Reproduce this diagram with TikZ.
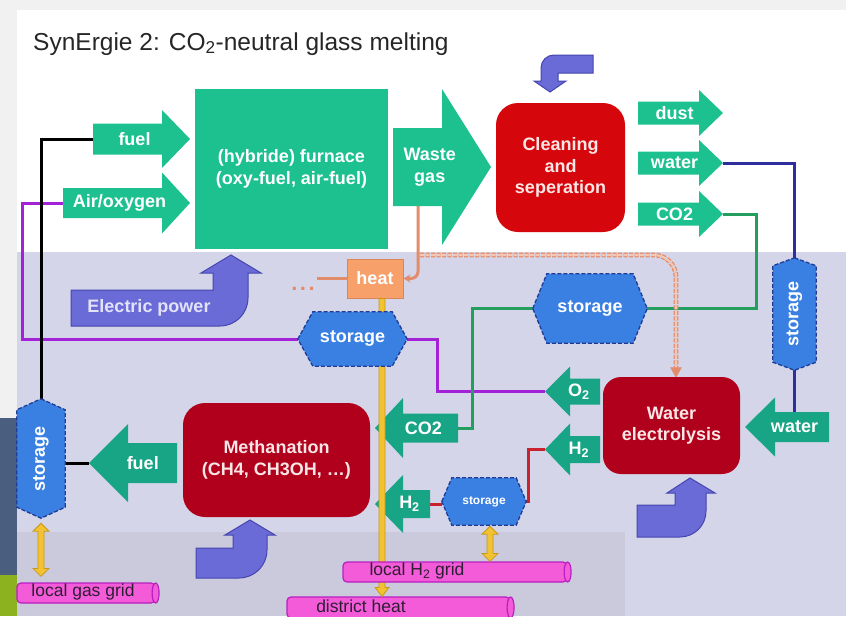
\documentclass[tikz,border=0pt]{standalone}
\usepackage{fontspec}
\setmainfont{Liberation Sans}
\usetikzlibrary{arrows.meta,calc}
\pgfdeclarelayer{bgl}
\pgfdeclarelayer{lnl}
\pgfsetlayers{bgl,lnl,main}
\definecolor{tealU}{HTML}{1DC190}
\definecolor{tealL}{HTML}{17A585}
\definecolor{redC}{HTML}{D6070C}
\definecolor{redD}{HTML}{B0001C}
\definecolor{storF}{HTML}{3A80E2}
\definecolor{storB}{HTML}{1E3C96}
\definecolor{epF}{HTML}{6B6BD8}
\definecolor{epB}{HTML}{4545B0}
\definecolor{heatF}{HTML}{F7A06A}
\definecolor{heatB}{HTML}{D9865A}
\definecolor{pipeF}{HTML}{F45BD8}
\definecolor{pipeB}{HTML}{B81FC0}
\definecolor{pipeT}{HTML}{2E1E34}
\definecolor{yelF}{HTML}{F2C232}
\definecolor{yelB}{HTML}{C8981A}
\definecolor{purL}{HTML}{A322D8}
\definecolor{bluL}{HTML}{2E2E9E}
\definecolor{grnL}{HTML}{239E5E}
\definecolor{redL}{HTML}{C8222E}
\definecolor{salL}{HTML}{E38C6C}
\definecolor{salM}{HTML}{F4C8B2}
\definecolor{lav}{HTML}{D5D5E9}
\definecolor{lavD}{HTML}{CACADC}
\definecolor{bgG}{HTML}{F1F1F1}
\definecolor{stripD}{HTML}{4A5F7F}
\definecolor{stripG}{HTML}{8CB31F}
\definecolor{titleT}{HTML}{262626}
\definecolor{pinkT}{HTML}{FBE6E6}
\definecolor{epT}{HTML}{E2E2F8}

\newcommand\lblfont{\bfseries\fontsize{18}{21.5}\selectfont}

% name, tail x, head-base x, tip x, centre y, shaft half, head half, style, text
\newcommand\blkarrow[9]{%
  \fill[#8] (#2,{#5-#6}) -- (#3,{#5-#6}) -- (#3,{#5-#7}) -- (#4,#5) -- (#3,{#5+#7}) -- (#3,{#5+#6}) -- (#2,{#5+#6}) -- cycle;
  \node[lbl] (#1) at ({(2*#2+#3+#4)/4},#5) {#9};
  \coordinate (#1 tail) at (#2,#5);
  \coordinate (#1 tip) at (#4,#5);}

% horizontal hexagon storage: name, x, y, w, h, slant
\newcommand\storH[6]{%
  \path node[minimum width=#4pt, minimum height=#5pt, inner sep=0pt] (#1) at (#2,#3) {};
  \draw[stor] (#1.west) -- ([xshift=#6pt]#1.north west) -- ([xshift=-#6pt]#1.north east) -- (#1.east) -- ([xshift=-#6pt]#1.south east) -- ([xshift=#6pt]#1.south west) -- cycle;}
% vertical hexagon storage
\newcommand\storV[6]{%
  \path node[minimum width=#4pt, minimum height=#5pt, inner sep=0pt] (#1) at (#2,#3) {};
  \draw[stor] (#1.north) -- ([yshift=-#6pt]#1.north east) -- ([yshift=#6pt]#1.south east) -- (#1.south) -- ([yshift=#6pt]#1.south west) -- ([yshift=-#6pt]#1.north west) -- cycle;}
% vertical double arrow between two coordinates (top, bottom)
\newcommand\ydouble[2]{%
  \filldraw[yarr] (#1) -- ([xshift=8pt,yshift=-8pt]#1) -- ([xshift=3pt,yshift=-8pt]#1) -- ([xshift=3pt,yshift=8pt]#2) -- ([xshift=8pt,yshift=8pt]#2) -- (#2) -- ([xshift=-8pt,yshift=8pt]#2) -- ([xshift=-3pt,yshift=8pt]#2) -- ([xshift=-3pt,yshift=-8pt]#1) -- ([xshift=-8pt,yshift=-8pt]#1) -- cycle;}

\begin{document}
\begin{tikzpicture}[x=1pt,y=-1pt,
  lbl/.style={font=\lblfont, text=white, inner sep=0pt, align=center},
  box/.style={font=\lblfont, inner sep=0pt, align=center},
  stor/.style={fill=storF, draw=storB, line width=1.3pt, dash pattern=on 4pt off 2pt},
  stxt/.style={font=\lblfont, text=white, inner sep=0pt},
  ep/.style={fill=epF, draw=epB, line width=1pt},
  pipe/.style={fill=pipeF, draw=pipeB, line width=1.2pt, rounded corners=4pt, inner sep=0pt},
  pipeE/.style={fill=pipeF, draw=pipeB, line width=1.2pt},
  ptxt/.style={font=\fontsize{17.5}{20}\selectfont, text=pipeT, inner sep=0pt},
  yarr/.style={fill=yelF, draw=yelB, line width=0.8pt},
  conn/.style={line width=3pt},
  salC/.style={draw=salL, line width=3pt},
  salDash/.style={draw=salL, line width=1.3pt, double=salM, double distance=2.2pt, dash pattern=on 4pt off 1.5pt}
]
\useasboundingbox (0,0) rectangle (846,616);

\begin{pgfonlayer}{bgl}
\fill[bgG] (0,0) rectangle (846,616);
\fill[white] (17,10) rectangle (846,252);
\fill[lav] (17,252) rectangle (846,616);
\fill[lavD] (17,532) rectangle (625,616);
\fill[stripD] (0,418) rectangle (17,575);
\fill[stripG] (0,575) rectangle (17,616);
\end{pgfonlayer}

\node[anchor=base west, font=\fontsize{24.5}{29}\selectfont, text=titleT, inner sep=0pt] (title) at (33,50) {SynErgie 2: CO\textsubscript{2}-neutral glass melting};

% main boxes
\node[box, fill=tealU, text=white, minimum width=193pt, minimum height=160pt] (furn) at (291.5,169) {(hybride) furnace\\(oxy-fuel, air-fuel)};
\node[box, fill=redC, text=pinkT, rounded corners=22pt, minimum width=129pt, minimum height=129pt] (clean) at (560.5,167.5) {Cleaning\\and\\seperation};
\node[box, fill=redD, text=pinkT, rounded corners=18pt, minimum width=137pt, minimum height=97pt] (elec) at (671.5,425.5) {Water\\electrolysis};
\node[box, fill=redD, text=pinkT, rounded corners=22pt, minimum width=187pt, minimum height=114pt] (meth) at (276.5,460) {Methanation\\(CH4, CH3OH, \ldots)};
\node[box, fill=heatF, draw=heatB, line width=1pt, text=white, minimum width=56pt, minimum height=39pt] (heat) at (375,278.5) {heat};

% block arrows
\blkarrow{fuelA}{93}{162}{190}{139}{15.5}{29}{tealU}{fuel}
\blkarrow{airA}{63}{162}{190}{203}{15}{30.5}{tealU}{Air/oxygen}
\blkarrow{wg}{393}{442}{491}{167}{39}{78}{tealU}{Waste\\gas}
\blkarrow{dust}{638}{699}{723}{113}{11.5}{23}{tealU}{dust}
\blkarrow{waterA}{638}{699}{723}{163}{11.5}{23}{tealU}{water}
\blkarrow{co2A}{638}{699}{723}{214}{11.5}{23}{tealU}{CO2}
\blkarrow{waterB}{829}{775}{745}{427}{15}{29.5}{tealL}{water}
\blkarrow{o2}{600}{570}{545}{391.5}{13}{25}{tealL}{O\textsubscript{2}}
\blkarrow{h2A}{600}{570}{545}{449.5}{13.5}{26}{tealL}{H\textsubscript{2}}
\blkarrow{co2B}{458}{403}{375}{428}{14.5}{30}{tealL}{CO2}
\blkarrow{h2B}{430}{403}{375}{504}{14}{29}{tealL}{H\textsubscript{2}}
\blkarrow{fuelB}{177}{128}{89}{463}{20}{39}{tealL}{fuel}
\coordinate (wgb) at (418,206);
\coordinate (hb) at (420,255);

% bent power arrows
\filldraw[ep] (71,290) -- (213,290) -- (213,273) -- (201,273) -- (231,255) -- (261,273) -- (248,273) -- (248,298) .. controls (248,313.5) and (235.5,326) .. (220,326) -- (71,326) -- cycle;
\node[lbl, text=epT] (eptext) at (149,308) {Electric power};
\filldraw[ep] (593,55) -- (593,73) -- (558,73) -- (558,81) -- (566,81) -- (550,92) -- (534,81) -- (541,81) -- (541,68) .. controls (541,60.8) and (546.8,55) .. (554,55) -- cycle;
\filldraw[ep] (196,548) -- (233,548) -- (233,535) -- (225,535) -- (250,520) -- (275,535) -- (267,535) -- (267,550) .. controls (267,565.5) and (254.5,578) .. (239,578) -- (196,578) -- cycle;
\filldraw[ep] (637,505) -- (675,505) -- (675,493) -- (667,493) -- (690,478) -- (715,493) -- (706,493) -- (706,511) .. controls (706,525.4) and (694.4,537) .. (680,537) -- (637,537) -- cycle;

% pipes (district heat first, the heat arrow runs behind the H2 grid)
\node[pipe, minimum width=138pt, minimum height=20pt] (gas) at (86,593) {};
\filldraw[pipeE] (gas.east) ellipse (3.5pt and 10pt);
\node[ptxt] (gastxt) at (83,592) {local gas grid};
\node[pipe, minimum width=223pt, minimum height=21pt] (dh) at (398.5,607.5) {};
\filldraw[pipeE] (dh.east) ellipse (3.5pt and 10.5pt);
\node[ptxt] (dhtxt) at (361,606) {district heat};

% heat to district heat (yellow)
\coordinate (hy1) at ([xshift=7pt]heat.south);
\coordinate (hy2) at (hy1 |- dh.north);
\filldraw[yarr] ([xshift=-3pt]hy1) -- ([xshift=3pt]hy1) -- ([xshift=3pt,yshift=9pt]hy2) -- ([xshift=7pt,yshift=9pt]hy2) -- (hy2) -- ([xshift=-7pt,yshift=9pt]hy2) -- ([xshift=-3pt,yshift=9pt]hy2) -- cycle;

\node[pipe, minimum width=224pt, minimum height=20pt] (h2g) at (455,572) {};
\filldraw[pipeE] (h2g.east) ellipse (3.5pt and 10pt);
\node[ptxt] (h2gtxt) at (417,571) {local H\textsubscript{2} grid};

% storages
\storH{st1}{352.5}{339}{109}{54}{15}
\node[stxt] (st1t) at (st1) {storage};
\storH{st2}{590}{308.5}{114}{69}{14}
\node[stxt] (st2t) at (st2) {storage};
\storH{st3}{484}{501.5}{84}{47}{10}
\node[stxt, font=\bfseries\fontsize{12}{14}\selectfont] (st3t) at (st3) {storage};
\storV{stR}{794.5}{314}{43}{112}{8}
\node[stxt, rotate=90] (stRt) at (stR) {storage};
\storV{stL}{41}{458.5}{48}{119}{11}
\node[stxt, rotate=90] (stLt) at (stL) {storage};

% yellow double arrows
\coordinate (ya1) at ([yshift=-5pt]stL.south);
\coordinate (ya2) at ([yshift=6pt]ya1 |- gas.north);
\ydouble{ya1}{ya2}
\coordinate (yb1) at ([xshift=6pt,yshift=-1pt]st3.south);
\coordinate (yb2) at (yb1 |- h2g.north);
\ydouble{yb1}{yb2}

\node[text=salL, font=\bfseries\fontsize{22}{22}\selectfont, inner sep=0pt] (dots) at (303,289) {.\hspace{2.5pt}.\hspace{2.5pt}.};

% connectors
\begin{pgfonlayer}{lnl}
\draw[conn, purL] (airA tail) -- ++(-41,0) |- (st1.west);
\draw[conn, purL] (st1.east) -- ++(30,0) |- (o2 tip);
\draw[conn, black] (fuelA tail) -| (stL.north);
\draw[conn, black] (fuelB tip) -- (fuelB tip -| stL.east);
\draw[conn, bluL] (waterA tip) -| (stR.north);
\draw[conn, bluL] (stR.south) -- ++(0,42);
\draw[conn, grnL] (co2A tip) -- ++(33,0) |- (st2.east);
\draw[conn, grnL] (st2.west) -- ++(-60,0) |- (co2B tail);
\draw[conn, redL] (h2B tail) -- (h2B tail -| st3.west);
\draw[conn, redL] (st3.east) -- ++(2,0) |- (h2A tip);
\draw[salC, rounded corners=7pt, -{Stealth[length=7pt,width=8pt]}] (wgb) |- (heat.east);
\draw[salC] (heat.west) -- ++(-30,0);
\draw[salDash, rounded corners=22pt] (hb) -| ([xshift=4.5pt,yshift=9pt]elec.north);
\draw[salL, line width=1pt, fill=salL] ([xshift=4.5pt]elec.north) -- ++(-5,-9) -- ++(10,0) -- cycle;
\end{pgfonlayer}
\end{tikzpicture}
\end{document}
